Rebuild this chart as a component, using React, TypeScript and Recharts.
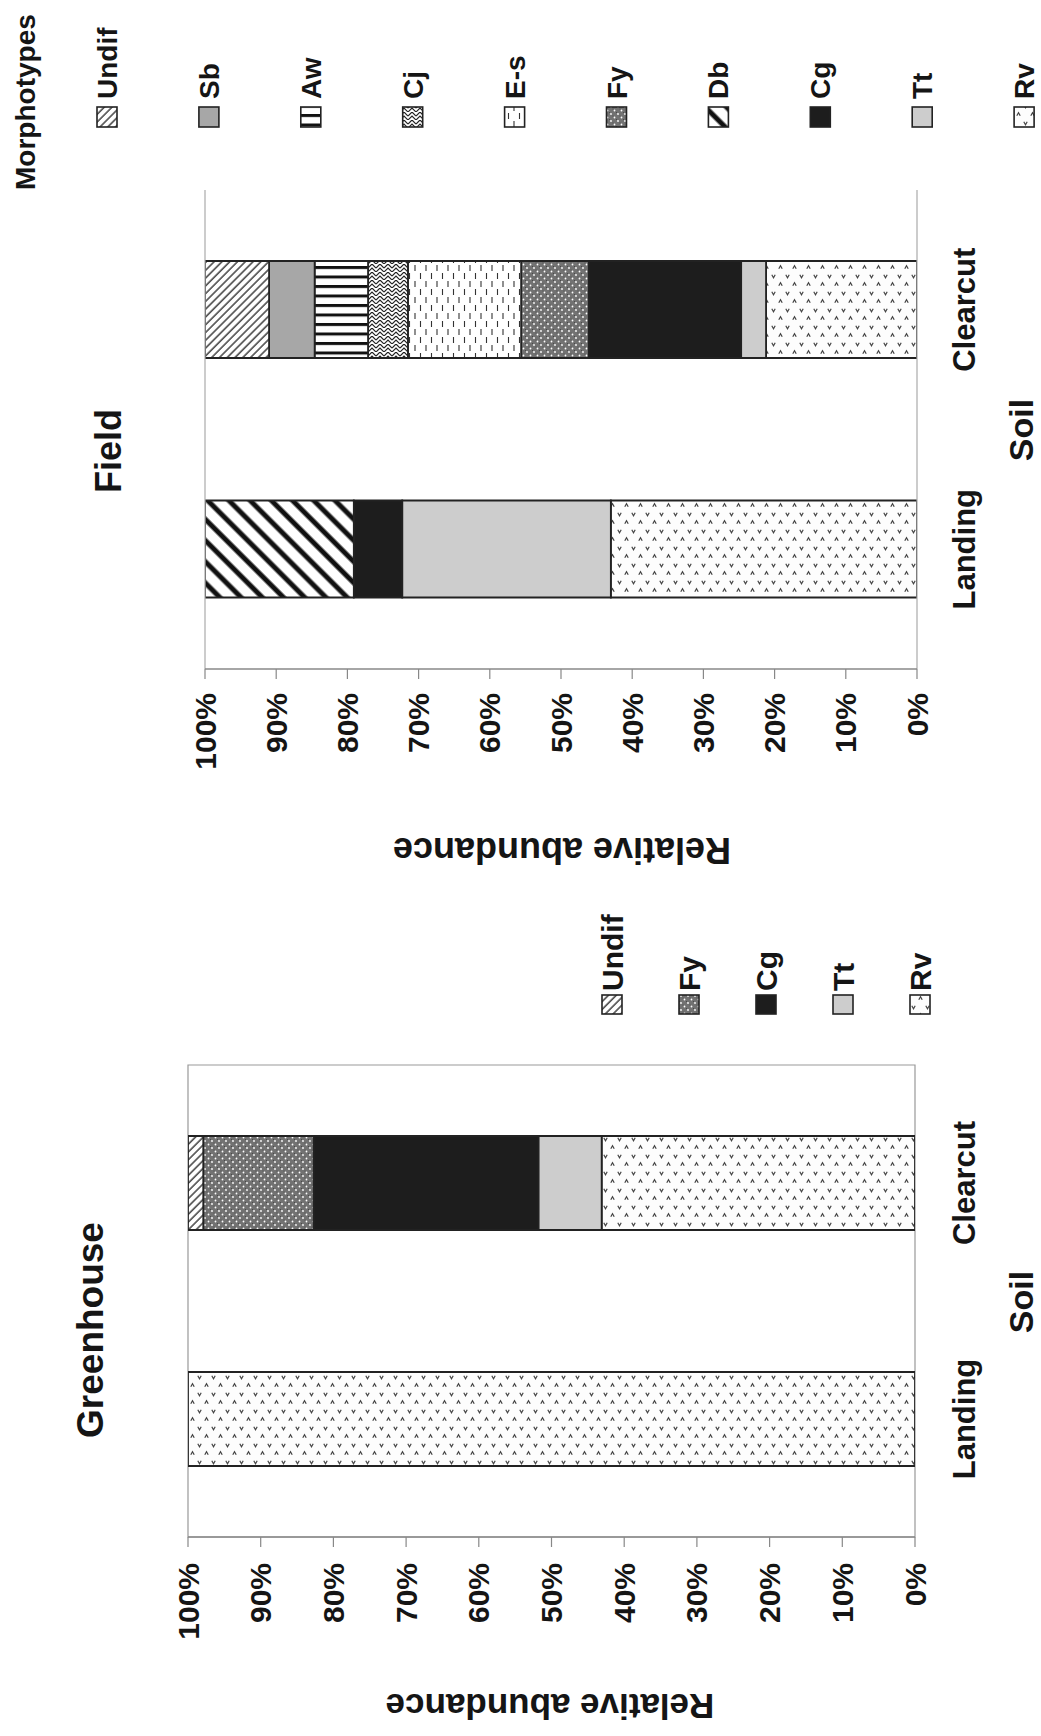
import React from "react";
import { BarChart, Bar, XAxis, YAxis, ReferenceArea, ReferenceLine } from "recharts";

// ---------- data ----------
const sites = ["Landing", "Clearcut"];
const pctTicks = [0, 10, 20, 30, 40, 50, 60, 70, 80, 90, 100];

// stack order from 0% upward
const fieldSeries = ["Rv", "Tt", "Cg", "Db", "Fy", "E-s", "Cj", "Aw", "Sb", "Undif"];
const ghSeries = ["Rv", "Tt", "Cg", "Fy", "Undif"];

// Greenhouse values (Landing, Clearcut)
const ghRv = [100, 43.1];
const ghTt = [0, 8.7];
const ghCg = [0, 30.9];
const ghFy = [0, 15.2];
const ghUndif = [0, 2.1];

// Field values (Landing, Clearcut)
const fRv = [43.0, 21.2];
const fTt = [29.3, 3.5];
const fCg = [6.8, 21.4];
const fDb = [20.9, 0];
const fFy = [0, 9.5];
const fEs = [0, 15.9];
const fCj = [0, 5.6];
const fAw = [0, 7.5];
const fSb = [0, 6.4];
const fUndif = [0, 9.0];

// legend order (as shown)
const fieldLegend = ["Undif", "Sb", "Aw", "Cj", "E-s", "Fy", "Db", "Cg", "Tt", "Rv"];
const ghLegend = ["Undif", "Fy", "Cg", "Tt", "Rv"];

const ghData = sites.map((site, i) => ({
  site,
  Rv: ghRv[i],
  Tt: ghTt[i],
  Cg: ghCg[i],
  Fy: ghFy[i],
  Undif: ghUndif[i],
}));

const fieldData = sites.map((site, i) => ({
  site,
  Rv: fRv[i],
  Tt: fTt[i],
  Cg: fCg[i],
  Db: fDb[i],
  Fy: fFy[i],
  "E-s": fEs[i],
  Cj: fCj[i],
  Aw: fAw[i],
  Sb: fSb[i],
  Undif: fUndif[i],
}));

// ---------- styles ----------
const FONT = "'Liberation Sans', Arial, Helvetica, sans-serif";
const INK = "#151515";

const fills: Record<string, string> = {
  Rv: "url(#pRv)",
  Tt: "#cdcdcd",
  Cg: "#1d1d1d",
  Db: "url(#pDb)",
  Fy: "url(#pFy)",
  "E-s": "url(#pEs)",
  Cj: "url(#pCj)",
  Aw: "url(#pAw)",
  Sb: "#a7a7a7",
  Undif: "url(#pUndif)",
};

const XTick = (props: any) => {
  const { x, y, payload } = props;
  return (
    <text
      transform={`translate(${x},${y}) rotate(-90)`}
      textAnchor="end"
      dominantBaseline="central"
      fontFamily={FONT}
      fontWeight="bold"
      fontSize={30}
      fill={INK}
    >
      {`${payload.value}%`}
    </text>
  );
};

const CatTick = (props: any) => {
  const { y, payload } = props;
  return (
    <text
      transform={`translate(975,${y}) rotate(-90)`}
      textAnchor="middle"
      fontFamily={FONT}
      fontWeight="bold"
      fontSize={31}
      fill={INK}
    >
      {payload.value}
    </text>
  );
};

function Patterns() {
  return (
    <defs>
      <pattern id="pRv" width="14" height="17" patternUnits="userSpaceOnUse">
        <rect width="14" height="17" fill="#fdfdfd" />
        <path d="M1.8 2.8 L3.5 5.8 L5.2 2.8" stroke="#444" strokeWidth="1.2" fill="none" />
        <path d="M8.8 13.8 L10.5 10.8 L12.2 13.8" stroke="#444" strokeWidth="1.2" fill="none" />
      </pattern>
      <pattern id="pFy" width="7" height="7" patternUnits="userSpaceOnUse">
        <rect width="7" height="7" fill="#727272" />
        <rect x="0" y="0" width="1" height="1" fill="#4a4a4a" />
        <rect x="3.5" y="3.5" width="1" height="1" fill="#4a4a4a" />
        <circle cx="2" cy="2" r="0.9" fill="#fff" />
        <circle cx="5.5" cy="5.5" r="0.9" fill="#fff" />
      </pattern>
      <pattern id="pEs" width="11" height="16" patternUnits="userSpaceOnUse">
        <rect width="11" height="16" fill="#fff" />
        <path d="M2.5 1 V7 M8 9 V15" stroke="#333" strokeWidth="1.1" />
      </pattern>
      <pattern id="pCj" width="8" height="8" patternUnits="userSpaceOnUse">
        <rect width="8" height="8" fill="#fff" />
        <path d="M0 4 L4 0 L8 4 M0 8 L4 4 L8 8" stroke="#222" strokeWidth="1.2" fill="none" />
      </pattern>
      <pattern id="pAw" width="10" height="9.5" patternUnits="userSpaceOnUse">
        <rect width="10" height="9.5" fill="#fff" />
        <rect y="0" width="10" height="3" fill="#111" />
      </pattern>
      <pattern id="pUndif" width="5.5" height="5.5" patternUnits="userSpaceOnUse" patternTransform="rotate(45)">
        <rect width="5.5" height="5.5" fill="#fff" />
        <line x1="1" y1="0" x2="1" y2="5.5" stroke="#222" strokeWidth="1.3" />
      </pattern>
      <pattern id="pDb" width="15" height="15" patternUnits="userSpaceOnUse" patternTransform="rotate(-45)">
        <rect width="15" height="15" fill="#fff" />
        <line x1="3" y1="0" x2="3" y2="15" stroke="#111" strokeWidth="5" />
      </pattern>
    </defs>
  );
}

const RotText = ({ x, y, size, children, anchor = "start", rot = -90, baseline }: any) => (
  <text
    transform={`translate(${x},${y}) rotate(${rot})`}
    textAnchor={anchor}
    dominantBaseline={baseline}
    fontFamily={FONT}
    fontWeight="bold"
    fontSize={size}
    fill={INK}
  >
    {children}
  </text>
);

export default function App() {
  const fieldLegendX0 = 107;
  const fieldLegendStep = 101.9;
  const ghLegendX0 = 612;
  const ghLegendStep = 77;
  return (
    <div style={{ position: "relative", width: 1041, height: 1736, background: "#fff", overflow: "hidden" }}>
      <style>{`body{margin:0;background:#fff}`}</style>

      {/* Field chart */}
      <div style={{ position: "absolute", left: 0, top: 0 }}>
        <BarChart
          layout="vertical"
          width={1041}
          height={880}
          data={fieldData}
          margin={{ top: 190, left: 205, right: 0, bottom: 0 }}
          barSize={97}
        >
          <XAxis
            type="number"
            domain={[0, 100]}
            ticks={pctTicks}
            reversed
            allowDataOverflow
            height={211}
            tickSize={10}
            tickMargin={14}
            tick={<XTick />}
            axisLine={{ stroke: "#888", strokeWidth: 1.5 }}
            tickLine={{ stroke: "#888", strokeWidth: 1.2 }}
            interval={0}
          />
          <YAxis
            type="category"
            dataKey="site"
            orientation="right"
            reversed
            width={124}
            tick={<CatTick />}
            axisLine={false}
            tickLine={false}
            interval={0}
          />
          <ReferenceLine x={100} stroke="#aaa" strokeWidth={1.2} />
          <ReferenceLine x={0} stroke="#aaa" strokeWidth={1.2} />
          {fieldSeries.map((k) => (
            <Bar
              key={k}
              dataKey={k}
              stackId="s"
              fill={fills[k]}
              stroke="#222"
              strokeWidth={1.8}
              isAnimationActive={false}
            />
          ))}
        </BarChart>
      </div>

      {/* Greenhouse chart */}
      <div style={{ position: "absolute", left: 0, top: 880 }}>
        <BarChart
          layout="vertical"
          width={1041}
          height={856}
          data={ghData}
          margin={{ top: 185, left: 188, right: 0, bottom: 0 }}
          barSize={94}
        >
          <XAxis
            type="number"
            domain={[0, 100]}
            ticks={pctTicks}
            reversed
            allowDataOverflow
            height={199}
            tickSize={10}
            tickMargin={16}
            tick={<XTick />}
            axisLine={{ stroke: "#888", strokeWidth: 1.5 }}
            tickLine={{ stroke: "#888", strokeWidth: 1.2 }}
            interval={0}
          />
          <YAxis
            type="category"
            dataKey="site"
            orientation="right"
            reversed
            width={126}
            tick={<CatTick />}
            axisLine={false}
            tickLine={false}
            interval={0}
          />
          <ReferenceArea x1={0} x2={100} fill="none" stroke="#999" strokeWidth={1.2} />
          {ghSeries.map((k) => (
            <Bar
              key={k}
              dataKey={k}
              stackId="s"
              fill={fills[k]}
              stroke="#222"
              strokeWidth={1.8}
              isAnimationActive={false}
            />
          ))}
        </BarChart>
      </div>

      {/* Overlay: titles, legends, pattern defs */}
      <svg
        width={1041}
        height={1736}
        style={{ position: "absolute", left: 0, top: 0, pointerEvents: "none" }}
      >
        <Patterns />

        {/* Field legend */}
        <RotText x={35} y={190} size={28}>Morphotypes</RotText>
        {fieldLegend.map((k, i) => {
          const cx = fieldLegendX0 + i * fieldLegendStep;
          return (
            <g key={k}>
              <rect x={cx - 10} y={107} width={20} height={20} fill={fills[k]} stroke="#222" strokeWidth={1.6} />
              <RotText x={cx + 10} y={99} size={28}>{k}</RotText>
            </g>
          );
        })}

        {/* Field titles */}
        <RotText x={121} y={451} size={36} anchor="middle">Field</RotText>
        <RotText x={1033} y={430} size={34} anchor="middle">Soil</RotText>
        <RotText x={562} y={850} size={36} anchor="middle" rot={180} baseline="central">Relative abundance</RotText>

        {/* Greenhouse legend */}
        {ghLegend.map((k, i) => {
          const cx = ghLegendX0 + i * ghLegendStep;
          return (
            <g key={k}>
              <rect x={cx - 10} y={995} width={20} height={19} fill={fills[k]} stroke="#222" strokeWidth={1.6} />
              <RotText x={cx + 11} y={991} size={30}>{k}</RotText>
            </g>
          );
        })}

        {/* Greenhouse titles */}
        <RotText x={103} y={1330} size={37} anchor="middle">Greenhouse</RotText>
        <RotText x={1033} y={1302} size={34} anchor="middle">Soil</RotText>
        <RotText x={550} y={1706} size={35} anchor="middle" rot={180} baseline="central">Relative abundance</RotText>
      </svg>
    </div>
  );
}
